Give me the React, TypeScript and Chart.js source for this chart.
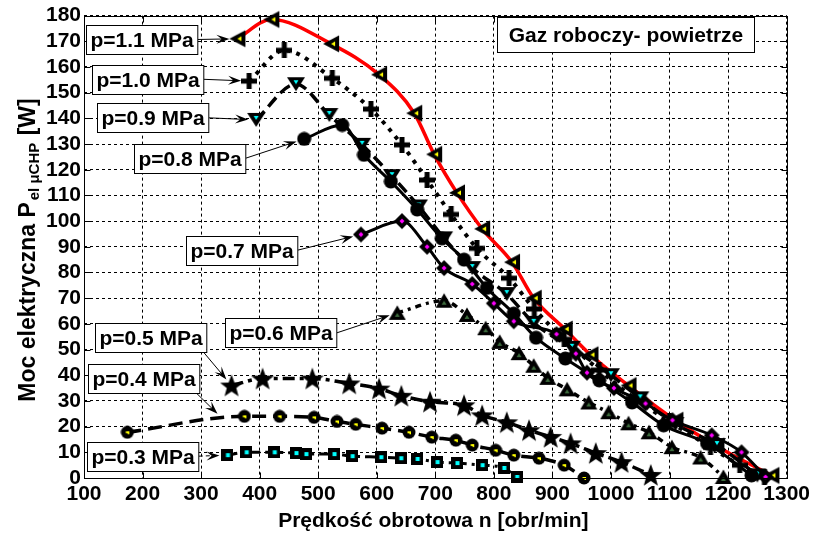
import React, { useEffect, useRef } from 'react';
import { Chart, registerables } from 'chart.js';
Chart.register(...registerables);

// ---------- data ----------
const X_TICKS = [100, 200, 300, 400, 500, 600, 700, 800, 900, 1000, 1100, 1200, 1300];
const Y_TICKS = [0, 10, 20, 30, 40, 50, 60, 70, 80, 90, 100, 110, 120, 130, 140, 150, 160, 170, 180];

const SERIES_LABELS = ['p=1.1 MPa', 'p=1.0 MPa', 'p=0.9 MPa', 'p=0.8 MPa', 'p=0.7 MPa', 'p=0.6 MPa', 'p=0.5 MPa', 'p=0.4 MPa', 'p=0.3 MPa'];

const n11 = [362, 420, 522, 604, 664, 698, 737, 780, 831, 868, 921, 965, 1030, 1110, 1180, 1274];
const P11 = [171, 178.5, 169, 157, 142, 126, 111, 97, 84, 70, 58, 48, 36, 22.5, 12.5, 1];

const n10 = [382, 442, 524, 590, 643, 686, 727, 771, 826, 869, 920, 980, 1040, 1100, 1170, 1220, 1262];
const P10 = [154.5, 166.5, 155.6, 143.6, 129.7, 116, 102.6, 89.4, 77.8, 65.8, 54, 42, 31, 22, 12, 5, 0.5];

const n09 = [394, 462, 519, 575, 626, 672, 715, 763, 822, 868, 933, 1000, 1050, 1110, 1181, 1250];
const P09 = [139.4, 153.3, 141.3, 129.7, 117.5, 105.7, 93.3, 81.7, 71.6, 60.4, 50.7, 40, 31, 21, 12.8, 1];

const n08 = [476, 541, 578, 624, 669, 711, 749, 788, 834, 872, 922, 980, 1036, 1090, 1164, 1240];
const P08 = [132, 137.4, 125.8, 115.4, 104.5, 93.3, 85, 74, 64, 54.6, 46.5, 38, 29.4, 20.5, 13.5, 1];

const n07 = [573, 643, 686, 715, 763, 800, 834, 907, 940, 959, 1005, 1059, 1105, 1172, 1223, 1264];
const P07 = [94.8, 100, 90, 81.7, 75.5, 68, 61, 56, 48.4, 41, 35, 29, 22.5, 16.6, 10, 0.4];

const n06 = [635, 715, 754, 786, 810, 843, 868, 892, 925, 962, 996, 1030, 1065, 1104, 1153, 1192];
const P06 = [64.3, 69, 63.5, 58.3, 53, 48.6, 43.7, 39, 34.5, 29.4, 25.6, 21.3, 17.8, 12, 8, 0.4];

const n05 = [352, 405, 490, 553, 604, 642, 691, 749, 780, 822, 860, 897, 931, 974, 1018, 1068];
const P05 = [36, 38.7, 38.7, 36.8, 34.8, 32, 29.7, 28.3, 24.4, 21.7, 18.6, 16, 13.5, 9.7, 6.2, 1.2];

const n04 = [174, 374, 434, 493, 532, 564, 609, 655, 694, 735, 763, 803, 834, 877, 920, 954];
const P04 = [17.8, 24, 24, 23.6, 22, 20.9, 19.4, 17.8, 15.9, 14.7, 12.8, 10.8, 8.9, 7.7, 5, 0];

const n03 = [345, 377, 425, 462, 479, 527, 558, 607, 641, 669, 703, 737, 780, 817, 839];
const P03 = [8.9, 10, 10, 9.7, 9.3, 9.3, 8.5, 8.1, 7.7, 7.4, 6.2, 5.8, 5, 3.9, 0.4];

const TITLE_TEXT = 'Gaz roboczy- powietrze';
const X_TITLE = 'Prędkość obrotowa n [obr/min]';
const Y_TITLE_MAIN = 'Moc elektryczna P';
const Y_TITLE_SUB = 'el μCHP';
const Y_TITLE_END = ' [W]';

// label annotations: box anchor (data coords) and arrow target (data coords)
const LABEL_BOX_X = [102.6, 114.5, 123, 186, 275, 341, 119.6, 106, 104.3];
const LABEL_BOX_Y = [170.7, 155.2, 140.2, 124.5, 88.7, 56.5, 54.6, 38.7, 8.5];
const LABEL_TARGET_X = [362, 382, 394, 476, 573, 635, 352, 328, 345];
const LABEL_TARGET_Y = [171, 154.5, 139.4, 132, 94.8, 64.3, 36, 25, 8.9];
const LABEL_FROM = ['right', 'right', 'right', 'right', 'right', 'right', 'bottom', 'bottom', 'right'];

const FONT = "'Liberation Sans', Arial, sans-serif";

function makeMarker(w: number, h: number, draw: (g: CanvasRenderingContext2D) => void) {
  const c = document.createElement('canvas');
  c.width = w;
  c.height = h;
  const g = c.getContext('2d')!;
  draw(g);
  return c;
}
function poly(g: CanvasRenderingContext2D, pts: number[][], color: string) {
  g.fillStyle = color;
  g.beginPath();
  pts.forEach((p, i) => (i ? g.lineTo(p[0], p[1]) : g.moveTo(p[0], p[1])));
  g.closePath();
  g.fill();
}

function buildMarkers() {
  const triLeft = makeMarker(20, 20, (g) => {
    poly(g, [[2, 10], [18, 1.5], [18, 18.5]], '#000');
    poly(g, [[10, 10], [14, 7.5], [14, 12.5]], '#ffff00');
  });
  const plus = makeMarker(16, 16, (g) => {
    g.fillStyle = '#000';
    g.fillRect(0, 5.5, 16, 5);
    g.fillRect(5.5, 0, 5, 16);
  });
  const triDown = makeMarker(20, 18, (g) => {
    poly(g, [[1, 2], [19, 2], [10, 16]], '#000');
    poly(g, [[7.5, 5], [12.5, 5], [10, 9]], '#00ffff');
  });
  const circle = makeMarker(15, 15, (g) => {
    g.fillStyle = '#000';
    g.beginPath();
    g.arc(7.5, 7.5, 7, 0, Math.PI * 2);
    g.fill();
  });
  const diamond = makeMarker(18, 18, (g) => {
    poly(g, [[9, 1], [17, 9], [9, 17], [1, 9]], '#000');
    poly(g, [[9, 6.5], [11.5, 9], [9, 11.5], [6.5, 9]], '#ff00ff');
  });
  const triUp = makeMarker(18, 18, (g) => {
    poly(g, [[9, 1.5], [17.5, 16], [0.5, 16]], '#000');
    poly(g, [[9, 9], [11.5, 13], [6.5, 13]], '#3d6b3d');
  });
  const star = makeMarker(24, 24, (g) => {
    const pts: number[][] = [];
    for (let i = 0; i < 10; i++) {
      const r = i % 2 === 0 ? 12 : 5;
      const a = -Math.PI / 2 + (i * Math.PI) / 5;
      pts.push([12 + r * Math.cos(a), 13 + r * Math.sin(a)]);
    }
    poly(g, pts, '#000');
  });
  const circleY = makeMarker(14, 14, (g) => {
    g.fillStyle = '#000';
    g.beginPath();
    g.arc(7, 7, 6.5, 0, Math.PI * 2);
    g.fill();
    g.fillStyle = '#ffff00';
    g.fillRect(5.5, 6, 3, 2);
    g.fillRect(7.5, 6, 1.5, 3);
  });
  const square = makeMarker(12, 12, (g) => {
    g.fillStyle = '#000';
    g.fillRect(0, 0, 12, 12);
    g.fillStyle = '#00ffff';
    g.fillRect(4.5, 4, 4, 4);
  });
  return { triLeft, plus, triDown, circle, diamond, triUp, star, circleY, square };
}

function pts(xs: number[], ys: number[]) {
  return xs.map((x, i) => ({ x, y: ys[i] }));
}

const overlayPlugin = {
  id: 'overlay',
  beforeDraw(chart: any) {
    const { ctx, width, height } = chart;
    ctx.save();
    ctx.fillStyle = '#fff';
    ctx.fillRect(0, 0, width, height);
    ctx.restore();
  },
  afterDraw(chart: any) {
    const { ctx, chartArea: a } = chart;
    const xs = chart.scales.x;
    const ys = chart.scales.y;
    ctx.save();
    ctx.setLineDash([]);
    ctx.strokeStyle = '#000';
    ctx.lineWidth = 1;
    const L = Math.round(a.left) + 0.5, T = Math.round(a.top) + 0.5;
    const R = Math.round(a.right) + 0.5, B = Math.round(a.bottom) + 0.5;
    ctx.strokeRect(L, T, R - L, B - T);
    // inward tick marks
    ctx.beginPath();
    X_TICKS.forEach((v) => {
      const px = Math.round(xs.getPixelForValue(v)) + 0.5;
      ctx.moveTo(px, B); ctx.lineTo(px, B - 6);
      ctx.moveTo(px, T); ctx.lineTo(px, T + 6);
    });
    Y_TICKS.forEach((v) => {
      const py = Math.round(ys.getPixelForValue(v)) + 0.5;
      ctx.moveTo(L, py); ctx.lineTo(L + 6, py);
      ctx.moveTo(R, py); ctx.lineTo(R - 6, py);
    });
    ctx.stroke();

    // series labels with arrows
    ctx.font = `bold 21px ${FONT}`;
    ctx.textBaseline = 'middle';
    SERIES_LABELS.forEach((txt, i) => {
      const left = xs.getPixelForValue(LABEL_BOX_X[i]);
      const cy = ys.getPixelForValue(LABEL_BOX_Y[i]);
      const tw = ctx.measureText(txt).width;
      const w = tw + 8, h = 29;
      const bx = Math.round(left) + 0.5, by = Math.round(cy - h / 2) + 0.5;
      // arrow
      let sx: number, sy: number;
      if (LABEL_FROM[i] === 'right') { sx = bx + w; sy = cy; } else { sx = bx + w - 3; sy = by + h; }
      const tx = xs.getPixelForValue(LABEL_TARGET_X[i]);
      const ty = ys.getPixelForValue(LABEL_TARGET_Y[i]);
      const dx = tx - sx, dy = ty - sy;
      const len = Math.hypot(dx, dy);
      const ux = dx / len, uy = dy / len;
      const gap = i === 7 ? 0 : 8;
      const ex = tx - ux * gap, ey = ty - uy * gap;
      ctx.strokeStyle = '#000';
      ctx.lineWidth = 1;
      ctx.setLineDash(i === 8 ? [4, 3] : []);
      ctx.beginPath();
      ctx.moveTo(sx, sy);
      ctx.lineTo(ex - ux * 4, ey - uy * 4);
      ctx.stroke();
      ctx.setLineDash([]);
      // head
      const hl = 13, hw = 4.5;
      ctx.fillStyle = '#000';
      ctx.beginPath();
      ctx.moveTo(ex, ey);
      ctx.lineTo(ex - ux * hl - uy * hw, ey - uy * hl + ux * hw);
      ctx.lineTo(ex - ux * hl * 0.6, ey - uy * hl * 0.6);
      ctx.lineTo(ex - ux * hl + uy * hw, ey - uy * hl - ux * hw);
      ctx.closePath();
      ctx.fill();
      // box
      ctx.fillStyle = '#fff';
      ctx.fillRect(bx, by, w, h);
      ctx.strokeRect(bx, by, w, h);
      ctx.fillStyle = '#000';
      ctx.fillText(txt, bx + 4, by + h / 2 + 1);
    });

    // title box
    {
      ctx.font = `bold 21px ${FONT}`;
      const tw = ctx.measureText(TITLE_TEXT).width;
      const w = Math.round(tw + 22), h = 35;
      const cx = xs.getPixelForValue(1025.4);
      const bx = Math.round(cx - w / 2) + 0.5, by = Math.round(a.top) + 1.5;
      ctx.fillStyle = '#fff';
      ctx.fillRect(bx, by, w, h);
      ctx.strokeStyle = '#000';
      ctx.strokeRect(bx, by, w, h);
      ctx.fillStyle = '#000';
      ctx.textAlign = 'center';
      ctx.fillText(TITLE_TEXT, bx + w / 2, by + h / 2 + 1);
    }

    // x title
    ctx.font = `bold 21px ${FONT}`;
    ctx.textAlign = 'center';
    ctx.textBaseline = 'alphabetic';
    ctx.fillText(X_TITLE, (a.left + a.right) / 2 - 2, 527);

    // y title with subscript
    ctx.save();
    ctx.translate(35, 250);
    ctx.rotate(-Math.PI / 2);
    ctx.textAlign = 'left';
    const f1 = `bold 23px ${FONT}`, f2 = `bold 15px ${FONT}`;
    ctx.font = f1;
    const w1 = ctx.measureText(Y_TITLE_MAIN).width;
    const w3 = ctx.measureText(Y_TITLE_END).width;
    ctx.font = f2;
    const w2 = ctx.measureText(Y_TITLE_SUB).width + 3;
    const total = w1 + w2 + w3;
    let xx = -total / 2;
    ctx.font = f1;
    ctx.fillText(Y_TITLE_MAIN, xx, 0);
    xx += w1 + 2;
    ctx.font = f2;
    ctx.fillText(Y_TITLE_SUB, xx, 4);
    xx += w2 - 2;
    ctx.font = f1;
    ctx.fillText(Y_TITLE_END, xx, 0);
    ctx.restore();

    ctx.restore();
  },
};

export default function App() {
  const ref = useRef<HTMLCanvasElement | null>(null);
  useEffect(() => {
    if (!ref.current) return;
    const m = buildMarkers();
    const base = { showLine: true, fill: false, clip: false as any, pointRadius: 8, cubicInterpolationMode: 'monotone' as const };
    const chart = new Chart(ref.current, {
      type: 'line',
      data: {
        datasets: [
          { ...base, label: SERIES_LABELS[8], data: pts(n03, P03), borderColor: '#000', borderWidth: 3, borderDash: [10, 5, 3, 5], pointStyle: m.square },
          { ...base, label: SERIES_LABELS[7], data: pts(n04, P04), borderColor: '#000', borderWidth: 3.5, borderDash: [14, 7], pointStyle: m.circleY },
          { ...base, label: SERIES_LABELS[6], data: pts(n05, P05), borderColor: '#000', borderWidth: 3.5, borderDash: [12, 5, 4, 5], pointStyle: m.star },
          { ...base, label: SERIES_LABELS[5], data: pts(n06, P06), borderColor: '#000', borderWidth: 3.5, borderDash: [6, 5, 3, 5], pointStyle: m.triUp },
          { ...base, label: SERIES_LABELS[4], data: pts(n07, P07), borderColor: '#000', borderWidth: 3, pointStyle: m.diamond },
          { ...base, label: SERIES_LABELS[3], data: pts(n08, P08), borderColor: '#000', borderWidth: 3, pointStyle: m.circle },
          { ...base, label: SERIES_LABELS[2], data: pts(n09, P09), borderColor: '#000', borderWidth: 3.5, borderDash: [12, 6], pointStyle: m.triDown },
          { ...base, label: SERIES_LABELS[1], data: pts(n10, P10), borderColor: '#000', borderWidth: 4, borderDash: [4, 6], pointStyle: m.plus },
          { ...base, label: SERIES_LABELS[0], data: pts(n11, P11), borderColor: '#ff0000', borderWidth: 3.5, pointStyle: m.triLeft },
        ] as any,
      },
      options: {
        animation: false,
        responsive: false,
        events: [],
        layout: { padding: { left: 0, top: 13, right: 26, bottom: 0 } },
        plugins: { legend: { display: false }, tooltip: { enabled: false }, title: { display: false } },
        scales: {
          x: {
            type: 'linear',
            min: 100,
            max: 1300,
            afterBuildTicks: (s: any) => { s.ticks = X_TICKS.map((v) => ({ value: v })); },
            afterFit: (s: any) => { s.height = 56; },
            ticks: { color: '#000', font: { family: FONT, size: 21, weight: 'bold' }, padding: 4, maxRotation: 0, autoSkip: false, callback: (v: any) => String(v) },
            grid: { color: '#000', lineWidth: 1, drawTicks: false },
            border: { display: false, dash: [3, 3] },
          },
          y: {
            type: 'linear',
            min: 0,
            max: 180,
            afterBuildTicks: (s: any) => { s.ticks = Y_TICKS.map((v) => ({ value: v })); },
            afterFit: (s: any) => { s.width = 84; },
            ticks: { color: '#000', font: { family: FONT, size: 21, weight: 'bold' }, padding: 3, autoSkip: false, callback: (v: any) => String(v) },
            grid: { color: '#000', lineWidth: 1, drawTicks: false },
            border: { display: false, dash: [3, 3] },
          },
        },
      } as any,
      plugins: [overlayPlugin],
    });
    return () => chart.destroy();
  }, []);
  return (
    <div style={{ position: 'absolute', left: 0, top: 0, width: 814, height: 534, background: '#fff' }}>
      <canvas ref={ref} width={814} height={534} style={{ display: 'block' }} />
    </div>
  );
}
